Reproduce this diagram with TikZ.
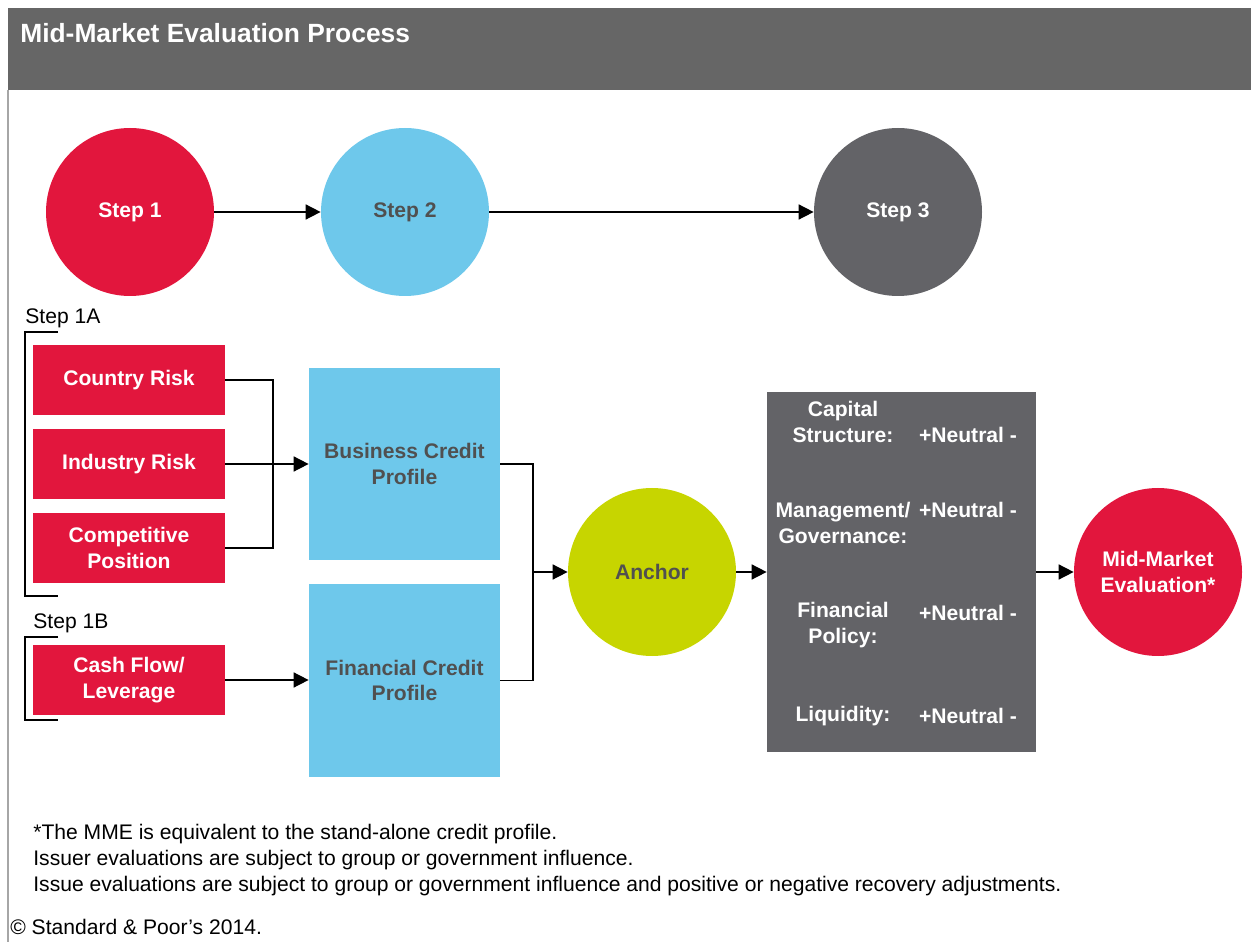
\documentclass[tikz,border=0pt]{standalone}
\usepackage{fontspec}
\setmainfont{Liberation Sans}
\usetikzlibrary{positioning,arrows.meta,calc}

\definecolor{spred}{HTML}{E2163D}
\definecolor{spblue}{HTML}{6EC8EB}
\definecolor{spgray}{HTML}{636367}
\definecolor{spgreen}{HTML}{C7D500}
\definecolor{sphead}{HTML}{666666}
\definecolor{sptext}{HTML}{505050}

\begin{document}
\begin{tikzpicture}[
    stepc/.style={circle, minimum size=3.36cm, inner sep=0pt, align=center, font=\bfseries\fontsize{12}{14.5}\selectfont},
    risk/.style={fill=spred, text=white, minimum width=3.84cm, minimum height=1.40cm, inner sep=0pt, align=center, font=\bfseries\fontsize{12}{14.5}\selectfont},
    profile/.style={fill=spblue, text=sptext, minimum width=3.82cm, minimum height=3.84cm, inner sep=0pt, align=center, font=\bfseries\fontsize{12}{14.5}\selectfont},
    factor/.style={text=white, align=center, inner sep=0pt, font=\bfseries\fontsize{12}{14.8}\selectfont},
    note/.style={anchor=west, inner sep=0pt, font=\fontsize{12}{14}\selectfont},
    arr/.style={-{Triangle[length=8.5pt, width=8.5pt]}, line width=0.9pt},
    link/.style={line width=0.9pt},
]
\useasboundingbox (0,0) rectangle (25.02,18.84);

% === Header ===
\fill[sphead] (0.16,17.04) rectangle (25.02,18.68);
\node[anchor=west, text=white, inner sep=0pt, font=\bfseries\fontsize{15}{17}\selectfont] (title) at (0.40,18.18) {Mid-Market Evaluation Process};
\draw[gray!70, line width=0.6pt] (0.16,17.04) -- (0.16,0);

% === Steps ===
\node[stepc, fill=spred, text=white] (step1) at (2.60,14.60) {Step 1};
\node[stepc, fill=spblue, text=sptext] (step2) at (8.10,14.60) {Step 2};
\node[stepc, fill=spgray, text=white] (step3) at (17.96,14.60) {Step 3};

\draw[arr] (step1) -- (step2);
\draw[arr] (step2) -- (step3);

% === Step 1A / 1B inputs ===
\node[anchor=west, inner sep=0pt, font=\fontsize{12}{14}\selectfont] (lab1a) at (0.50,12.48) {Step 1A};
\draw[link] (1.16,12.20) -- (0.50,12.20) -- (0.50,6.92) -- (1.16,6.92);

\node[risk] (country) at (2.58,11.24) {Country Risk};
\node[risk] (industry) at (2.58,9.56) {Industry Risk};
\node[risk] (compet) at (2.58,7.88) {Competitive\\Position};

\node[anchor=west, inner sep=0pt, font=\fontsize{12}{14}\selectfont] (lab1b) at (0.66,6.38) {Step 1B};
\draw[link] (1.16,6.10) -- (0.50,6.10) -- (0.50,4.44) -- (1.16,4.44);

\node[risk] (cashflow) at (2.58,5.24) {Cash Flow/\\Leverage};

% Credit profiles
\node[profile] (business) at (8.09,9.56) {Business Credit\\Profile};
\node[profile] (financial) at (8.09,5.23) {Financial Credit\\Profile};

\coordinate (j1) at (5.46,9.56);
\draw[link] (country.east) -| (j1) |- (compet.east);
\draw[arr] (industry) -- (business);
\draw[arr] (cashflow.east) -- (cashflow.east -| financial.west);

% === Anchor ===
\node[stepc, fill=spgreen, text=sptext] (anchor) at (13.04,7.40) {Anchor};

\coordinate (j2) at (10.66,7.40);
\draw[link] (business.east) -| (j2) |- (financial.east);
\draw[arr] (j2) -- (anchor);

% === Modifiers ===
\node[fill=spgray, minimum width=5.38cm, minimum height=7.20cm, inner sep=0pt] (mods) at (18.03,7.40) {};

\node[factor] (capital) at (16.86,10.41) {Capital\\Structure:};
\node[factor] (capitalv) at (19.36,10.14) {+Neutral -};
\node[factor] (manage) at (16.86,8.38) {Management/\\Governance:};
\node[factor] (managev) at (19.36,8.64) {+Neutral -};
\node[factor] (policy) at (16.86,6.33) {Financial\\Policy:};
\node[factor] (policyv) at (19.36,6.58) {+Neutral -};
\node[factor] (liquid) at (16.86,4.52) {Liquidity:};
\node[factor] (liquidv) at (19.36,4.52) {+Neutral -};

\draw[arr] (anchor) -- (mods);

% === Result ===
\node[stepc, fill=spred, text=white] (mme) at (23.16,7.40) {Mid-Market\\Evaluation*};
\draw[arr] (mods) -- (mme);

% === Notes ===
\node[note] (note1) at (0.66,2.16) {*The MME is equivalent to the stand-alone credit profile.};
\node[note] (note2) at (0.66,1.64) {Issuer evaluations are subject to group or government influence.};
\node[note] (note3) at (0.66,1.12) {Issue evaluations are subject to group or government influence and positive or negative recovery adjustments.};
\node[note] (copy) at (0.20,0.30) {© Standard \& Poor’s 2014.};

\end{tikzpicture}
\end{document}
